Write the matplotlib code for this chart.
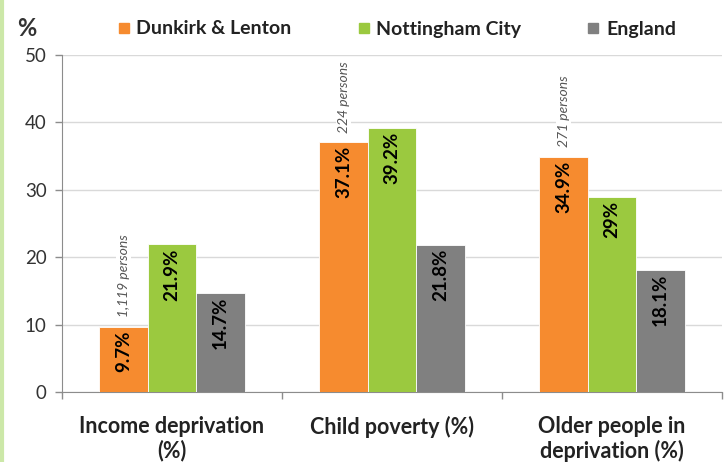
import matplotlib
matplotlib.use("Agg")
import matplotlib.pyplot as plt
from matplotlib.lines import Line2D
import numpy as np

plt.rcParams['font.family'] = ['Lato', 'DejaVu Sans']

categories = ["Income deprivation\n(%)", "Child poverty (%)", "Older people in\ndeprivation (%)"]
series_names = ["Dunkirk & Lenton", "Nottingham City", "England"]
dunkirk = [9.7, 37.1, 34.9]
nottingham = [21.9, 39.2, 29.0]
england = [14.7, 21.8, 18.1]
value_labels = [["9.7%", "37.1%", "34.9%"], ["21.9%", "39.2%", "29%"], ["14.7%", "21.8%", "18.1%"]]
persons = ["1,119 persons", "224 persons", "271 persons"]
colors = ["#F68B2F", "#9BC93F", "#808080"]

fig = plt.figure(figsize=(7.25, 4.62), dpi=100)
ax = fig.add_axes([62/725, 1-392/462, (722-62)/725, (392-55)/462])

x = np.arange(len(categories))
bw = 0.22
series = [dunkirk, nottingham, england]
for i, (vals, c) in enumerate(zip(series, colors)):
    pos = x + (i - 1) * bw
    ax.bar(pos, vals, width=bw, color=c, edgecolor='white', linewidth=0.6, zorder=3)
    for p, v, lab in zip(pos, vals, value_labels[i]):
        ax.text(p, v - 0.6, lab, rotation=90, ha='center', va='top',
                fontsize=13.5, fontweight='bold', color='black', zorder=4)

for p, v, lab in zip(x - bw, dunkirk, persons):
    ax.text(p, v + 1.4, lab, rotation=90, ha='center', va='bottom',
            fontsize=10, style='italic', color='#555555', zorder=4,
            bbox=dict(facecolor='white', edgecolor='none', pad=1.0))

ax.set_xlim(-0.5, 2.5)
ax.set_ylim(0, 50)
ax.set_yticks([0, 10, 20, 30, 40, 50])
ax.yaxis.grid(True, color='#d9d9d9', linewidth=1.0, zorder=0)
ax.set_axisbelow(True)
for s in ['top', 'right']:
    ax.spines[s].set_visible(False)
for s in ['left', 'bottom']:
    ax.spines[s].set_color('#8c8c8c')
ax.tick_params(axis='y', colors='#8c8c8c', labelcolor='#333333', labelsize=13.5, length=5, width=1, pad=6)
ax.set_xticks(x)
ax.set_xticklabels(categories, fontsize=15.5, fontweight='bold', color='#222222', linespacing=1.2)
ax.tick_params(axis='x', length=0, pad=17)
ax.set_xticks([-0.5, 0.5, 1.5, 2.5], minor=True)
ax.tick_params(axis='x', which='minor', length=5, colors='#8c8c8c', width=1)

fig.text(17/725, 1-29/462, "%", fontsize=17, fontweight='bold', color='#333333', va='center', ha='left')

handles = [Line2D([], [], marker='s', linestyle='none', markersize=7, color=c) for c in colors]
fig.legend(handles, series_names, loc='center', bbox_to_anchor=(396/725, 1-29/462), ncol=3,
           frameon=False, prop={'size': 14, 'weight': 'bold'}, handletextpad=0.25,
           columnspacing=3.3, handlelength=0.8, labelcolor='#222222')

fig.add_artist(plt.Line2D([2/725, 2/725], [0, 1], color='#cce8a8', linewidth=3, transform=fig.transFigure))

fig.savefig("out.png", dpi=100)
